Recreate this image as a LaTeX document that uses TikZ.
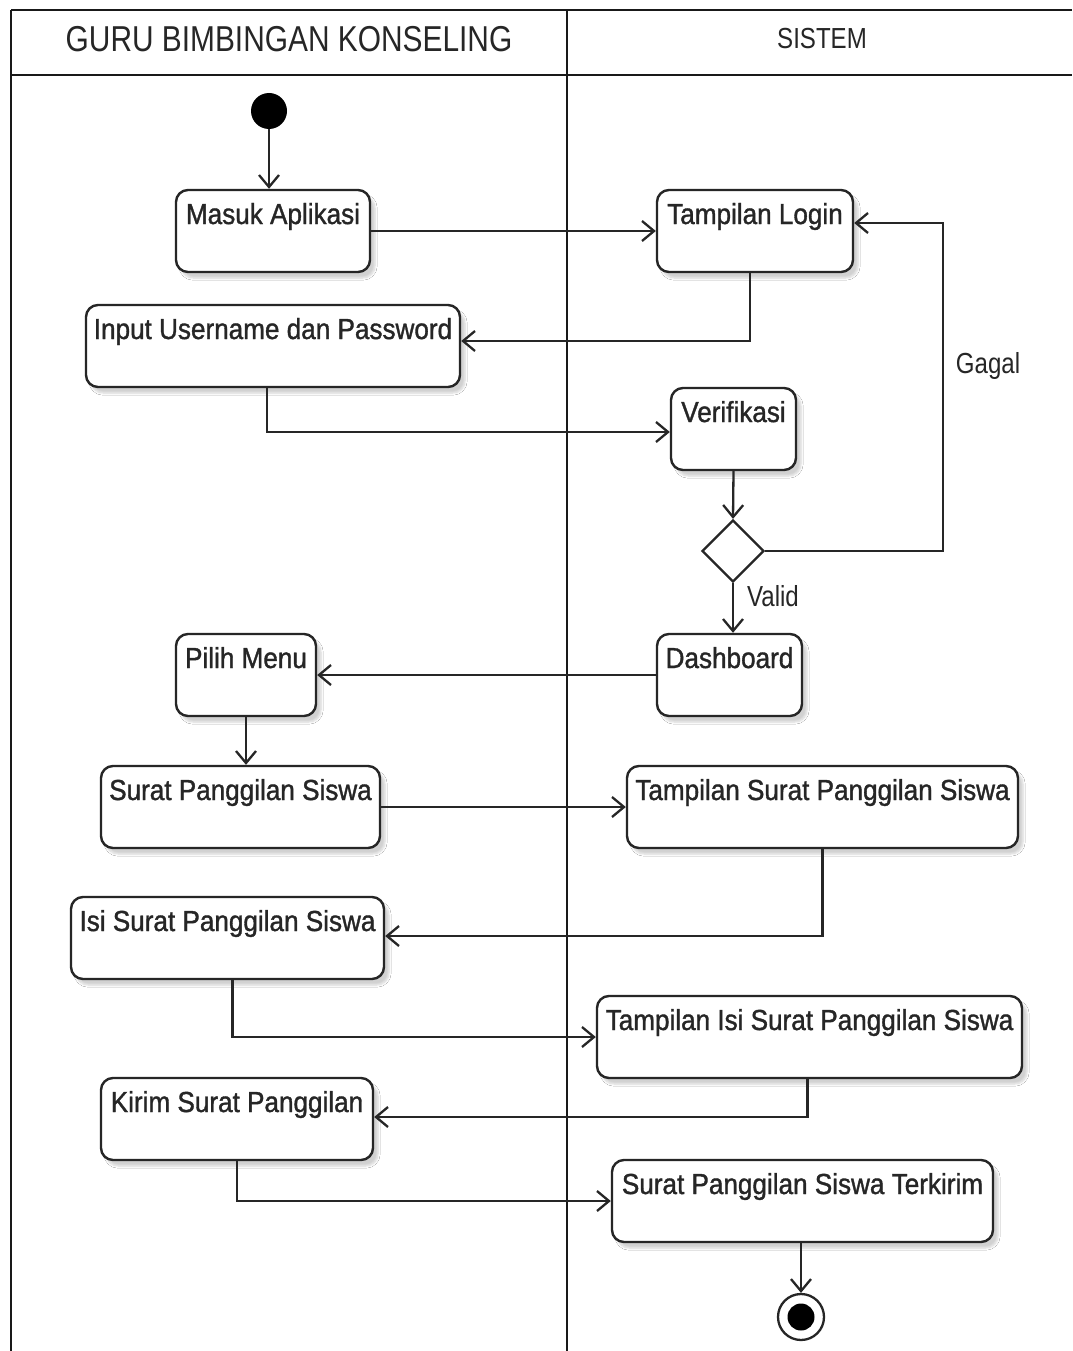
\documentclass[tikz,border=0pt]{standalone}
\usepackage{fontspec}
\setmainfont{Liberation Sans}
\newfontfamily\actfont[FakeStretch=0.9,FakeBold=1.2]{Liberation Sans}
\newfontfamily\lanefont[FakeStretch=0.83]{Liberation Sans}
\usetikzlibrary{arrows.meta,shapes.geometric,shadows.blur,calc}

\begin{document}
\begin{tikzpicture}[x=1pt,y=-1pt,
  ink/.style={draw=black!85},
  act/.style={ink, line width=2.4pt, rounded corners=12pt, fill=white,
    minimum height=82pt, inner sep=0pt,
    blur shadow={shadow xshift=5pt, shadow yshift=-6pt, shadow opacity=18, shadow blur steps=6}},
  acttext/.style={anchor=north, inner sep=0pt, yshift=-14pt,
    font=\actfont\fontsize{29}{34}\selectfont, text=black!85},
  lanetitle/.style={inner sep=0pt, font=\lanefont\fontsize{36}{40}\selectfont, text=black!85},
  lanetitlesmall/.style={inner sep=0pt, font=\lanefont\fontsize{29}{34}\selectfont, text=black!85},
  guard/.style={inner sep=0pt, font=\lanefont\fontsize{29}{34}\selectfont, text=black!85},
  lane/.style={draw=black!90, line width=2.4pt},
  flow/.style={ink, line width=2.3pt, -{Straight Barb[length=12pt,width=20pt,line width=2.3pt]}},
  decision/.style={ink, diamond, line width=2.3pt, fill=white, minimum size=62pt, inner sep=0pt},
]
\useasboundingbox (0,0) rectangle (1072,1351);
\fill[white] (0,0) rectangle (1072,1351);

% swimlanes
\draw[lane] (11,10) -- (1072,10);
\draw[lane] (11,75) -- (1072,75);
\draw[lane] (11,10) -- (11,1351);
\draw[lane, line width=2pt] (567,10) -- (567,1351);
\node[lanetitle] (laneguru) at (289,39) {GURU BIMBINGAN KONSELING};
\node[lanetitlesmall] (lanesistem) at (822,39) {SISTEM};

% start / end
\node[circle, fill=black, minimum size=36pt, inner sep=0pt] (start) at (269,111) {};
\node[circle, ink, line width=2.3pt, fill=white, minimum size=46pt, inner sep=0pt] (finish) at (801,1317) {};
\node[circle, fill=black, minimum size=27pt, inner sep=0pt] (finishcore) at (801,1317) {};

% activities
\node[act, minimum width=194pt, label={[acttext]north:Masuk Aplikasi}] (masuk) at (273,231) {};
\node[act, minimum width=196pt, label={[acttext]north:Tampilan Login}] (login) at (755,231) {};
\node[act, minimum width=374pt, label={[acttext]north:Input Username dan Password}] (input) at (273,346) {};
\node[act, minimum width=125pt, label={[acttext]north:Verifikasi}] (verif) at (733.5,429) {};
\node[decision] (dia) at (733,551) {};
\node[act, minimum width=145pt, label={[acttext]north:Dashboard}] (dash) at (729.5,675) {};
\node[act, minimum width=140pt, label={[acttext]north:Pilih Menu}] (pilih) at (246,675) {};
\node[act, minimum width=279pt, label={[acttext]north:Surat Panggilan Siswa}] (surat) at (240.5,807) {};
\node[act, minimum width=391pt, label={[acttext]north:Tampilan Surat Panggilan Siswa}] (tsurat) at (822.5,807) {};
\node[act, minimum width=313pt, label={[acttext]north:Isi Surat Panggilan Siswa}] (isi) at (227.5,938) {};
\node[act, minimum width=425pt, label={[acttext]north:Tampilan Isi Surat Panggilan Siswa}] (tisi) at (809.5,1037) {};
\node[act, minimum width=272pt, label={[acttext]north:Kirim Surat Panggilan}] (kirim) at (237,1119) {};
\node[act, minimum width=381pt, label={[acttext]north:Surat Panggilan Siswa Terkirim}] (terkirim) at (802.5,1201) {};

% flows
\draw[flow] (start) -- (start |- masuk.north);
\draw[flow] (masuk.east) -- (login.west);
\draw[flow] ([xshift=-5pt]login.south) |- ([yshift=5pt]input.east);
\draw[flow] ([xshift=-6pt]input.south) |- ([yshift=-3pt]verif.west);
\draw[flow] (verif.south) -- (dia.north);
\coordinate (gagalx) at (943,551);
\draw[flow] (dia.east) -- (gagalx) |- ([yshift=8pt]login.east);
\node[guard] (gagal) at (988,366) {Gagal};
\draw[flow] (dia.south) -- (dia.south |- dash.north);
\node[guard] (valid) at (773,596) {Valid};
\draw[flow] (dash.west) -- (pilih.east);
\draw[flow] (pilih.south) -- (pilih.south |- surat.north);
\draw[flow] (surat.east) -- (tsurat.west);
\draw[flow] (tsurat.south) |- ([yshift=2pt]isi.east);
\draw[flow] ([xshift=5pt]isi.south) |- (tisi.west);
\draw[flow] ([xshift=-2pt]tisi.south) |- ([yshift=2pt]kirim.east);
\draw[flow] (kirim.south) |- (terkirim.west);
\draw[flow] (finish |- terkirim.south) -- (finish.north);
\end{tikzpicture}
\end{document}
